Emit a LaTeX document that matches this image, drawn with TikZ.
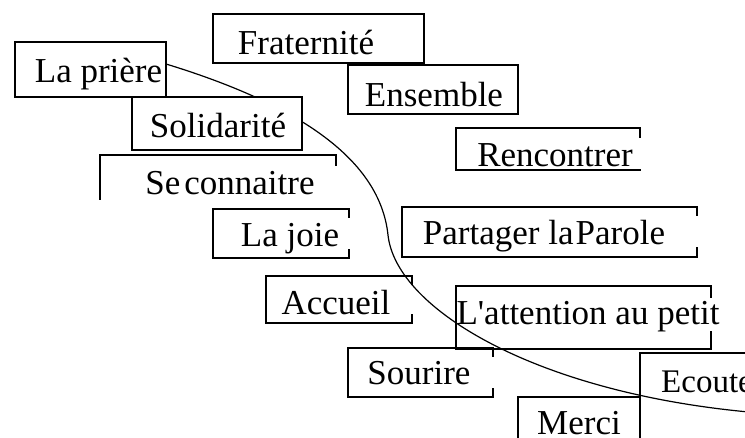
\documentclass[tikz,border=0pt]{standalone}
\usepackage{fontspec}
\setmainfont{Liberation Serif}[Ligatures=TeXOff]
\begin{document}
\begin{tikzpicture}[x=1pt,y=-1pt,
  box/.style={rectangle, inner sep=0pt, outer sep=0pt, line width=1.4pt},
  fullbox/.style={box, draw},
  txt/.style={font=\fontsize{35}{40}\selectfont, inner sep=0pt, anchor=base},
  edge/.style={line width=1.4pt, line cap=rect},
  arcline/.style={line width=1.2pt}]
\useasboundingbox (0,0) rectangle (745,438);
\begin{scope}
\clip (0,0) rectangle (745,438);
% curve
\coordinate (cstart) at (166,64);
\coordinate (cmid) at (388,235);
\coordinate (cend) at (760,413);
\draw[arcline] (cstart) .. controls (300,105) and (380,160) .. (cmid)
  .. controls (396,310) and (540,395) .. (cend);
% full boxes
\node[fullbox, fill=white, minimum width=151, minimum height=55] (priere) at (90.5,69.5) {};
\node[fullbox, minimum width=211, minimum height=49] (frat) at (318.5,38.5) {};
\node[fullbox, minimum width=170, minimum height=49] (ens) at (433,89.5) {};
\node[fullbox, fill=white, minimum width=170, minimum height=53] (soli) at (217,123.5) {};
% partial boxes
\node[box, minimum width=236, minimum height=44] (secon) at (218,177) {};
\draw[edge] (secon.south west) -- (secon.north west) -- (secon.north east) -- ++(0,10);
\node[box, minimum width=184, minimum height=42] (renc) at (548,149) {};
\draw[edge] (renc.north east) ++(0,9) -- (renc.north east) -- (renc.north west) -- (renc.south west) -- (renc.south east);
\node[box, minimum width=136, minimum height=49] (joie) at (281,233.5) {};
\draw[edge] (joie.north east) ++(0,8) -- (joie.north east) -- (joie.north west) -- (joie.south west) -- (joie.south east) -- ++(0,-8);
\node[box, minimum width=295, minimum height=50] (part) at (549.5,232) {};
\draw[edge] (part.north east) ++(0,8) -- (part.north east) -- (part.north west) -- (part.south west) -- (part.south east) -- ++(0,-9);
\node[box, minimum width=146, minimum height=47] (accu) at (339,299.5) {};
\draw[edge] (accu.north east) ++(0,8) -- (accu.north east) -- (accu.north west) -- (accu.south west) -- (accu.south east) -- ++(0,-8);
\node[box, minimum width=255, minimum height=63] (atten) at (583.5,317.5) {};
\draw[edge] (atten.north east) ++(0,11) -- (atten.north east) -- (atten.north west) -- (atten.south west) -- (atten.south east) -- ++(0,-17);
\node[box, minimum width=145, minimum height=49] (sour) at (420.5,372.5) {};
\draw[edge] (sour.north east) ++(0,8) -- (sour.north east) -- (sour.north west) -- (sour.south west) -- (sour.south east) -- ++(0,-8);
\node[box, minimum width=160, minimum height=100] (ecou) at (720,403) {};
\draw[edge] (ecou.south west) -- (ecou.north west) -- (ecou.north east);
\node[box, minimum width=122, minimum height=60] (merci) at (579,427) {};
\draw[edge] (merci.south west) -- (merci.north west) -- (merci.north east);
% texts
\node[txt] (t-priere) at (98.5,83) {La prière};
\node[txt] (t-frat) at (306,55) {Fraternité};
\node[txt] (t-ens) at (434,107) {Ensemble};
\node[txt] (t-soli) at (218,138) {Solidarité};
\node[txt] (t-secon) at (230,195) {Se\kern4pt connaitre};
\node[txt] (t-renc) at (555,167) {Rencontrer};
\node[txt] (t-joie) at (290,247) {La joie};
\node[txt] (t-accu) at (336,315) {Accueil};
\node[txt] (t-part) at (544,245) {Partager la\kern2pt Parole};
\node[txt] (t-atten) at (588,325) {L'attention au petit};
\node[txt] (t-sour) at (419,385) {Sourire};
\node[txt, anchor=base west, font=\fontsize{33}{38}\selectfont] (t-ecou) at (661,393) {Ecouter};
\node[txt] (t-merci) at (579,435) {Merci};
\end{scope}
\end{tikzpicture}
\end{document}
